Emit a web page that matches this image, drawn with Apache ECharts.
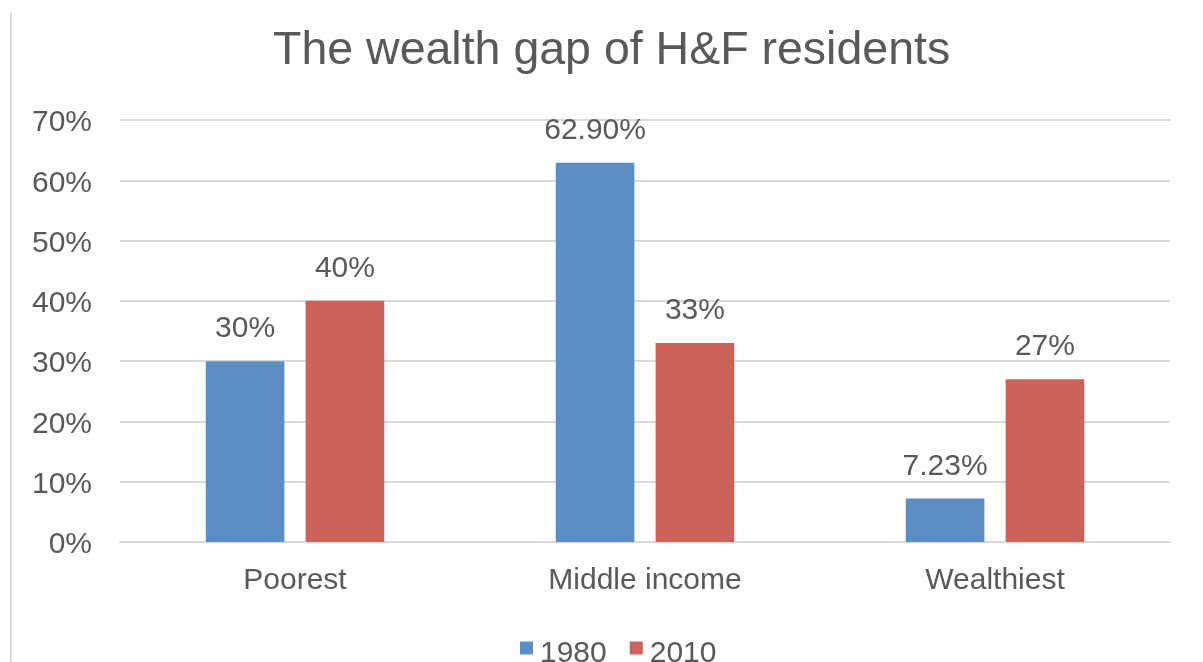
<!DOCTYPE html>
<html><head><meta charset="utf-8">
<script src="https://cdn.jsdelivr.net/npm/echarts@6/dist/echarts.min.js"></script>
<style>html,body{margin:0;padding:0;background:#fff}#c{width:1203px;height:662px}</style>
</head><body><div id="c"></div>
<script>
const categories = ['Poorest', 'Middle income', 'Wealthiest'];
const series1980 = [30, 62.9, 7.23];
const series2010 = [40, 33, 27];
const labels1980 = ['30%', '62.90%', '7.23%'];
const labels2010 = ['40%', '33%', '27%'];
const yTicks = [0, 10, 20, 30, 40, 50, 60, 70];

const chart = echarts.init(document.getElementById('c'));
const font = 'Liberation Sans, Arial, Helvetica, sans-serif';
const txt = '#595959';
chart.setOption({
  animation: false,
  title: {text: 'The wealth gap of H&F residents', left: 268, top: 23,
    textStyle: {fontFamily: font, fontSize: 46.5, fontWeight: 'normal', color: txt}},
  legend: {top: 634, left: 515, itemWidth: 13, itemHeight: 13, itemGap: 23,
    icon: 'rect', formatter: '{a|{name}}',
    textStyle: {fontFamily: font, fontSize: 30, color: txt,
      rich: {a: {fontFamily: font, fontSize: 30, color: txt, padding: [12, 0, 0, 2]}}},
    data: ['1980', '2010']},
  graphic: [{type: 'line', shape: {x1: 11, y1: 12, x2: 11, y2: 662},
    style: {stroke: '#d9d9d9', lineWidth: 2}}],
  grid: {left: 120, right: 33, top: 120, bottom: 120},
  xAxis: {type: 'category', data: categories,
    axisLine: {show: true, lineStyle: {color: '#d9d9d9', width: 2}},
    axisTick: {show: false},
    axisLabel: {fontFamily: font, fontSize: 30, color: txt, margin: 24}},
  yAxis: {type: 'value', min: yTicks[0], max: yTicks[yTicks.length - 1], interval: 10,
    axisLine: {show: false}, axisTick: {show: false},
    splitLine: {lineStyle: {color: '#d9d9d9', width: 2}},
    axisLabel: {fontFamily: font, fontSize: 30, color: txt, margin: 28,
      formatter: v => '{a|' + v + '%}',
      rich: {a: {fontFamily: font, fontSize: 30, color: txt, padding: [6, 0, 0, 0]}}}},
  series: [
    {name: '1980', type: 'bar', data: series1980, barGap: '27%', barCategoryGap: '49%',
      itemStyle: {color: '#5b8fc4'},
      label: {show: true, position: 'top', distance: 17, fontFamily: font, fontSize: 30, color: txt,
        formatter: p => labels1980[p.dataIndex]}},
    {name: '2010', type: 'bar', data: series2010,
      itemStyle: {color: '#cc6358'},
      label: {show: true, position: 'top', distance: 17, fontFamily: font, fontSize: 30, color: txt,
        formatter: p => labels2010[p.dataIndex]}}
  ]
});
</script></body></html>
